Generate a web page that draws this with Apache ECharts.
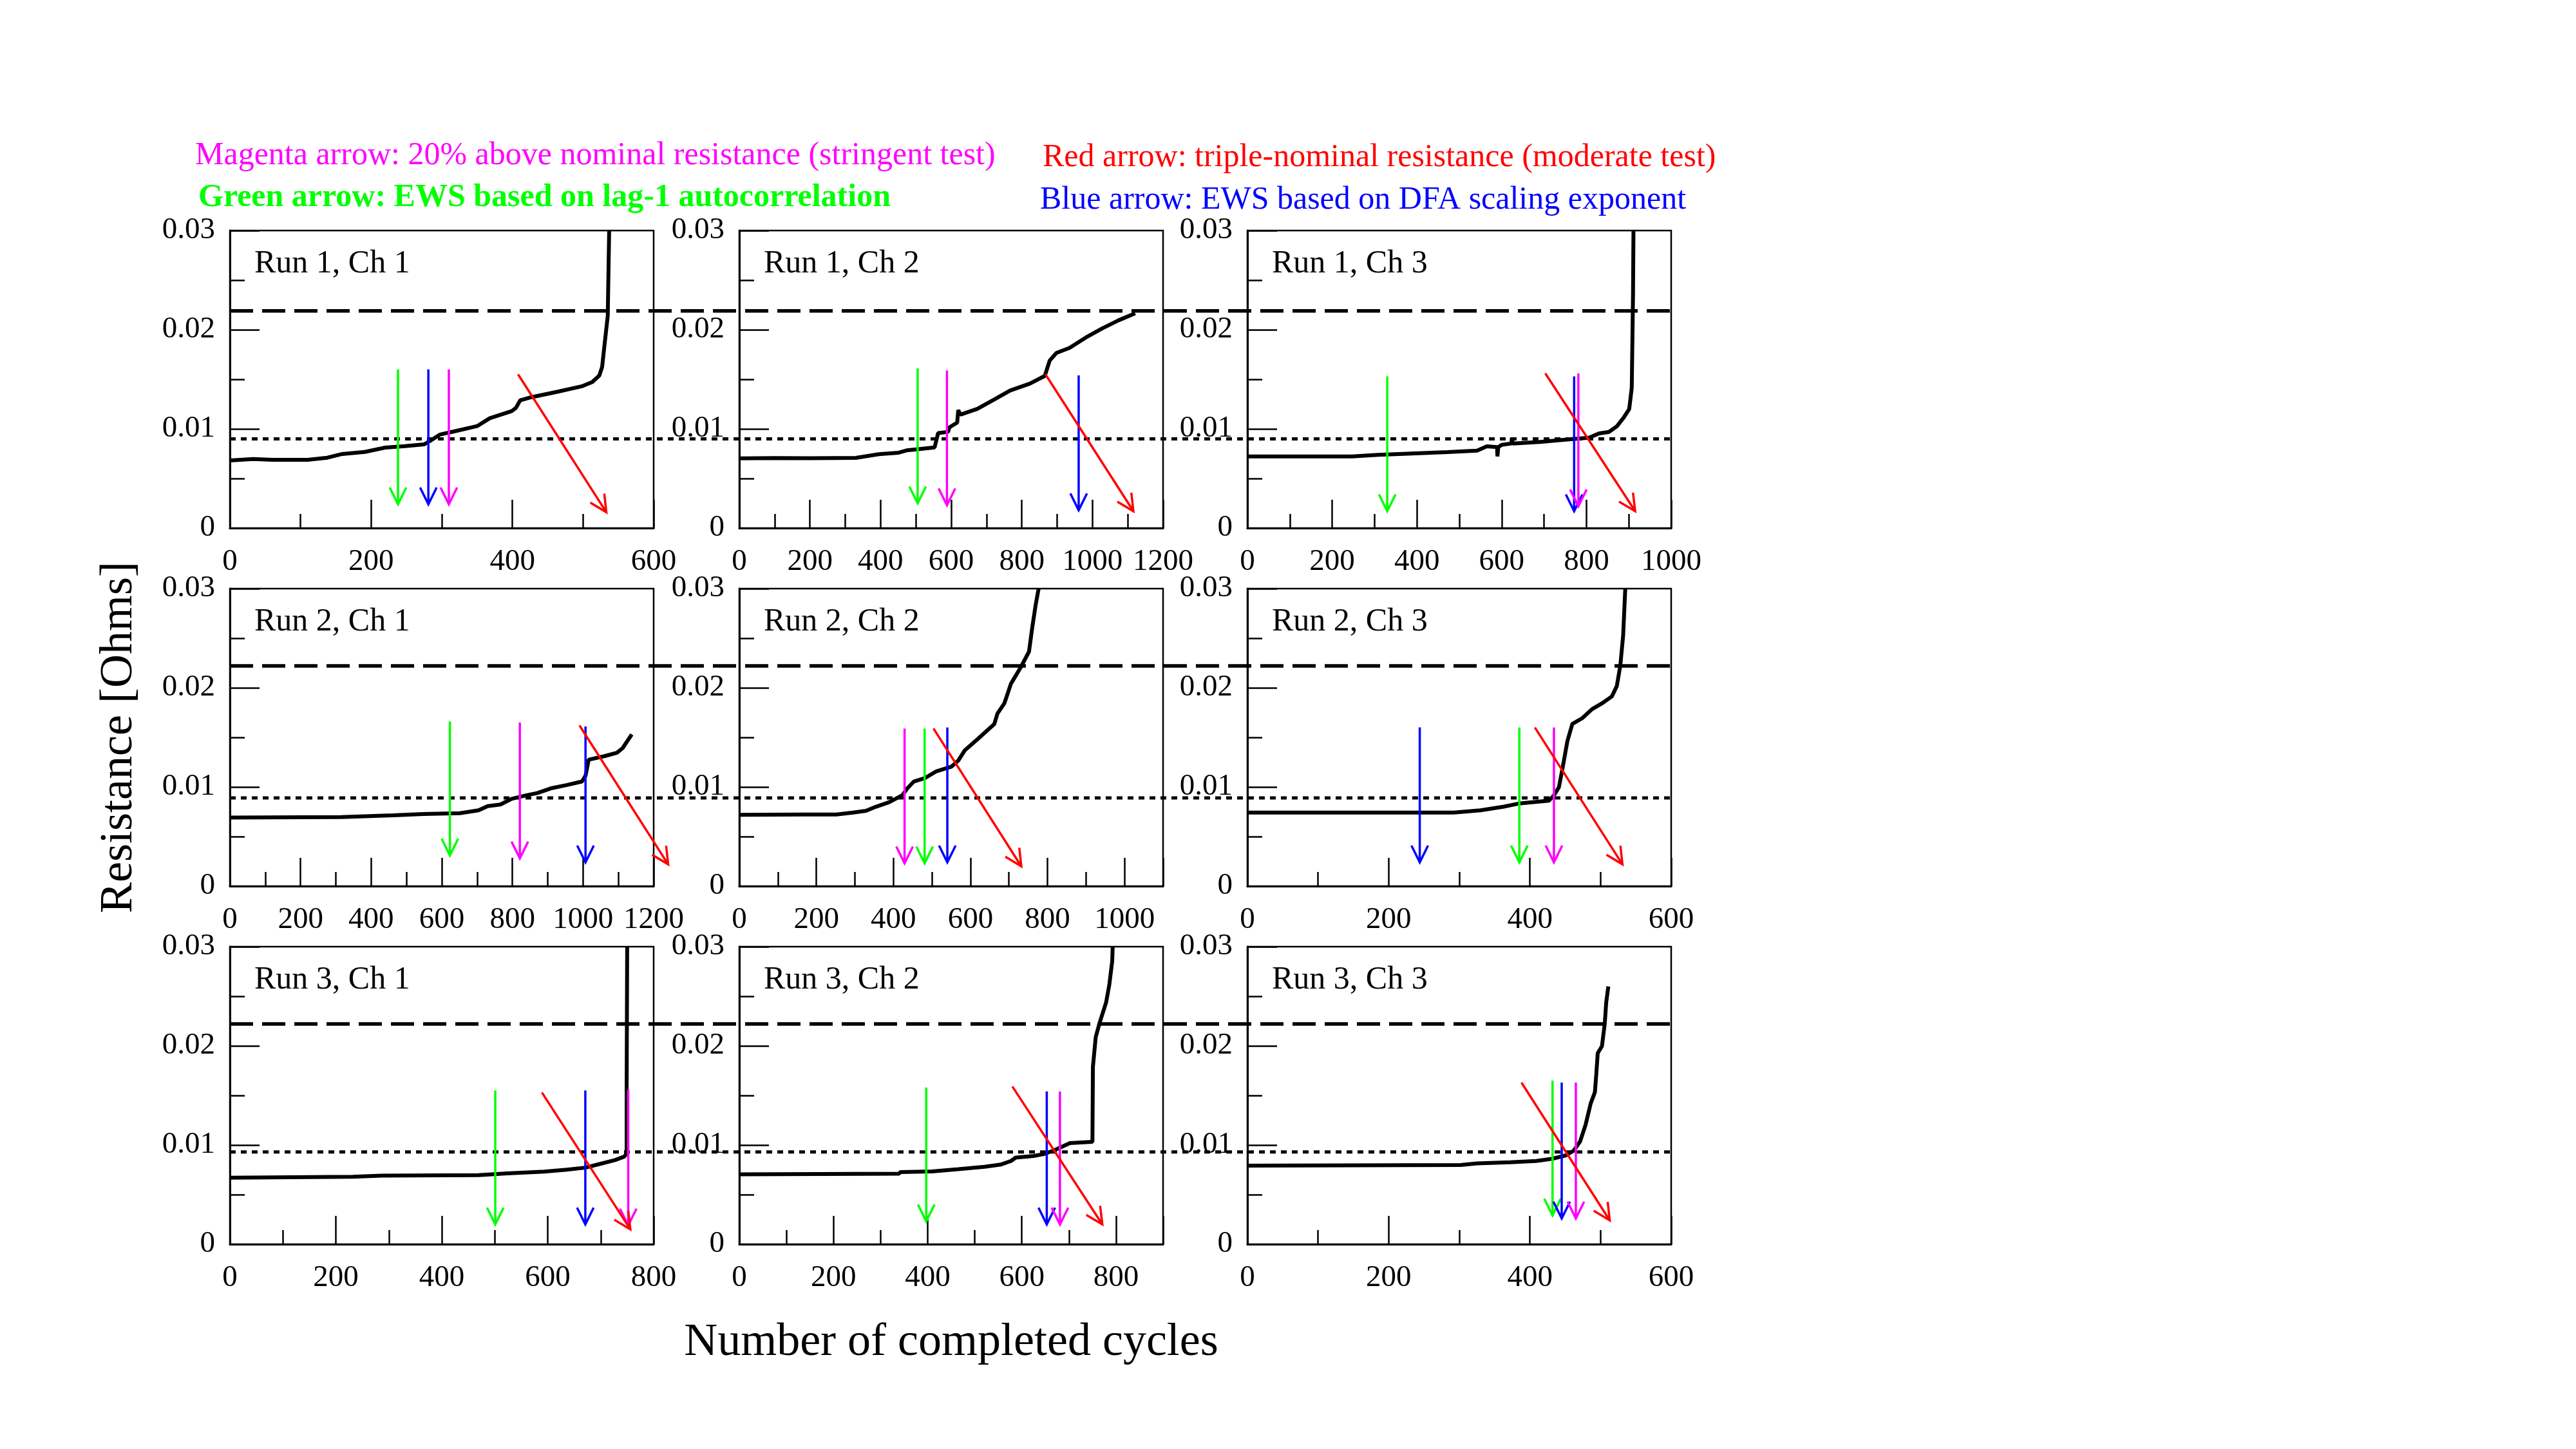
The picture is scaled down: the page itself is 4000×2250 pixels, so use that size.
<!DOCTYPE html>
<html>
<head>
<meta charset="utf-8">
<script src="https://cdn.jsdelivr.net/npm/echarts@6/dist/echarts.min.js"></script>
<style>
  html, body { margin: 0; padding: 0; background: #fff; }
  #chart { width: 4000px; height: 2250px; }
</style>
</head>
<body>
<div id="chart"></div>
<script>
// panel order: Run 1 Ch 1..3, Run 2 Ch 1..3, Run 3 Ch 1..3
const panelNames = ['Run 1, Ch 1', 'Run 1, Ch 2', 'Run 1, Ch 3',
                    'Run 2, Ch 1', 'Run 2, Ch 2', 'Run 2, Ch 3',
                    'Run 3, Ch 1', 'Run 3, Ch 2', 'Run 3, Ch 3'];
const xMax = [600, 1200, 1000, 1200, 1100, 600, 800, 900, 600];
const xTickLabels = [
  [0, 200, 400, 600], [0, 200, 400, 600, 800, 1000, 1200], [0, 200, 400, 600, 800, 1000],
  [0, 200, 400, 600, 800, 1000, 1200], [0, 200, 400, 600, 800, 1000], [0, 200, 400, 600],
  [0, 200, 400, 600, 800], [0, 200, 400, 600, 800], [0, 200, 400, 600]
];
const yTickLabels = ['0', '0.01', '0.02', '0.03'];

// threshold lines per row (Ohms)
const tripleNominal = [0.0219, 0.0222, 0.0222];
const stringentLevel = [0.0090, 0.0089, 0.0093];

// resistance curves: [cycles, Ohms]
const r1c1 = [[0,0.00682],[33,0.00697],[60,0.00688],[110,0.00688],[138,0.0071],[159,0.00747],[191,0.00768],[220,0.00812],[248,0.00827],[275,0.00844],[283,0.00877],[297,0.00942],[317,0.00974],[350,0.01028],[368,0.01108],[399,0.0118],[405,0.01212],[411,0.01288],[427,0.0132],[464,0.01375],[498,0.01429],[513,0.01472],[523,0.01537],[527,0.01623],[530,0.0182],[535,0.0214],[537,0.0300]];
const r1c2 = [[0,0.00703],[100,0.00706],[200,0.00704],[330,0.00708],[395,0.00745],[451,0.0076],[474,0.00784],[507,0.00796],[553,0.00814],[563,0.00958],[591,0.0097],[595,0.01016],[617,0.01063],[620,0.0119],[626,0.01144],[674,0.01202],[721,0.01295],[767,0.01387],[823,0.01457],[865,0.01534],[879,0.01689],[898,0.01766],[935,0.01817],[981,0.01921],[1028,0.02014],[1074,0.02095],[1121,0.02165]];
const r1c3 = [[0,0.00723],[247,0.00723],[309,0.00738],[387,0.00752],[472,0.00767],[542,0.00781],[565,0.00824],[589,0.00816],[590,0.00723],[592,0.00816],[600,0.00839],[623,0.00853],[624,0.00911],[626,0.00853],[690,0.00868],[767,0.00897],[806,0.00911],[830,0.00955],[853,0.00969],[872,0.01027],[888,0.01114],[901,0.012],[907,0.01417],[910,0.02372],[911,0.0300]];
const r2c1 = [[0,0.00691],[316,0.00696],[369,0.00703],[463,0.00714],[547,0.00728],[651,0.00735],[704,0.00765],[730,0.00807],[766,0.00823],[798,0.00881],[840,0.00916],[871,0.00939],[908,0.00985],[955,0.0102],[997,0.01055],[1007,0.01113],[1016,0.01275],[1060,0.0131],[1096,0.01345],[1112,0.01391],[1138,0.0153]];
const r2c2 = [[0,0.00719],[167,0.00723],[252,0.00723],[295,0.00742],[329,0.0076],[354,0.008],[389,0.00846],[423,0.00916],[436,0.00985],[453,0.01055],[482,0.0109],[512,0.01159],[551,0.01206],[568,0.01264],[585,0.01368],[619,0.01484],[662,0.01635],[670,0.01739],[688,0.01843],[705,0.0204],[730,0.02203],[752,0.02365],[760,0.02597],[769,0.02829],[777,0.0300]];
const r2c3 = [[0,0.00742],[292,0.00742],[330,0.00765],[362,0.008],[386,0.00835],[427,0.00862],[434,0.00916],[441,0.00997],[446,0.01182],[453,0.01461],[460,0.01635],[474,0.01693],[488,0.01785],[502,0.01843],[516,0.01913],[523,0.02017],[528,0.02226],[532,0.02527],[535,0.0300]];
const r3c1 = [[0,0.00671],[232,0.0068],[287,0.00691],[469,0.00697],[524,0.00714],[594,0.00732],[636,0.00752],[671,0.00772],[699,0.0081],[727,0.00848],[744,0.00882],[749,0.00911],[749,0.01576],[750,0.0300]];
const r3c2 = [[0,0.00704],[339,0.00711],[342,0.00727],[409,0.00734],[465,0.00757],[521,0.00781],[556,0.00804],[577,0.00839],[587,0.00873],[625,0.0089],[646,0.00908],[667,0.00943],[688,0.00989],[702,0.01019],[750,0.01033],[751,0.01788],[757,0.02089],[765,0.02228],[779,0.02437],[786,0.02622],[792,0.02854],[793,0.0300]];
const r3c3 = [[0,0.00792],[302,0.00799],[325,0.00815],[372,0.00827],[409,0.00839],[432,0.00862],[451,0.00896],[462,0.00943],[471,0.01035],[479,0.01209],[486,0.01418],[492,0.01533],[494,0.01719],[496,0.01927],[502,0.01997],[506,0.02228],[508,0.02437],[511,0.02599]];
const curves = [r1c1, r1c2, r1c3, r2c1, r2c2, r2c3, r3c1, r3c2, r3c3];

// arrows per panel: [x start, y start, x end, y end]
const greenArrows = [[238,0.0160,238,0.0024],[505,0.0161,505,0.0025],[330,0.0153,330,0.0017],[623,0.0166,623,0.0031],[481,0.0159,481,0.0023],[385,0.0160,385,0.0024],[501,0.0155,501,0.0020],[397,0.0158,397,0.0023],[432,0.0165,432,0.0029]];
const blueArrows = [[281,0.0160,281,0.0024],[961,0.0154,961,0.0018],[771,0.0153,771,0.0017],[1007,0.0161,1007,0.0024],[540,0.0160,540,0.0024],[244,0.0160,244,0.0024],[671,0.0155,671,0.0020],[653,0.0154,653,0.0020],[445,0.0163,445,0.0026]];
const magentaArrows = [[310,0.0160,310,0.0024],[588,0.0159,588,0.0023],[781,0.0156,781,0.0022],[821,0.0165,821,0.0028],[429,0.0159,429,0.0023],[434,0.0160,434,0.0024],[752,0.0156,752,0.0019],[681,0.0154,681,0.0020],[465,0.0163,465,0.0026]];
const redArrows = [[408,0.0155,533,0.0016],[867,0.0155,1116,0.0017],[703,0.0156,915,0.0017],[990,0.0162,1241,0.0022],[504,0.0159,732,0.0020],[407,0.0160,531,0.0022],[589,0.0153,756,0.0015],[580,0.0159,771,0.0020],[388,0.0163,513,0.0024]];

const FONT = 'Liberation Serif';
const colLeft = [357, 1148, 1937];
const rowTop = [358, 914, 1470];
const PW = 658, PH = 462;

const grid = [], xAxis = [], yAxis = [], series = [], title = [];

function arrowSeries(panel, arrow, color) {
  return {
    type: 'custom',
    xAxisIndex: panel * 2 + 1,
    yAxisIndex: panel,
    clip: false,
    silent: true,
    z: 4,
    data: [arrow],
    encode: { x: [0, 2], y: [1, 3] },
    renderItem: (params, api) => {
      const p1 = api.coord([api.value(0), api.value(1)]);
      const p2 = api.coord([api.value(2), api.value(3)]);
      const ang = Math.atan2(p2[1] - p1[1], p2[0] - p1[0]);
      const L = 29, a = 0.46;
      const h1 = [p2[0] - L * Math.cos(ang - a), p2[1] - L * Math.sin(ang - a)];
      const h2 = [p2[0] - L * Math.cos(ang + a), p2[1] - L * Math.sin(ang + a)];
      const style = { stroke: color, lineWidth: 3.5, fill: null };
      return {
        type: 'group',
        children: [
          { type: 'polyline', shape: { points: [p1, p2] }, style },
          { type: 'polyline', shape: { points: [h1, p2, h2] }, style }
        ]
      };
    }
  };
}

for (let i = 0; i < 9; i++) {
  const r = Math.floor(i / 3), c = i % 3;
  grid.push({
    left: colLeft[c], top: rowTop[r], width: PW, height: PH,
    show: true, borderColor: '#000', borderWidth: 2.5, backgroundColor: 'transparent',
    containLabel: false
  });
  // minor x ticks
  xAxis.push({
    type: 'value', gridIndex: i, position: 'bottom', min: 0, max: xMax[i], interval: 100,
    axisLine: { show: false, onZero: false },
    axisTick: { show: true, inside: true, length: 22, lineStyle: { color: '#000', width: 2.5 } },
    axisLabel: { show: false },
    splitLine: { show: false }
  });
  // major x ticks and labels
  const labels = xTickLabels[i];
  const major = {
    type: 'value', gridIndex: i, position: 'bottom', min: 0, max: xMax[i], interval: 200,
    axisLine: { show: true, onZero: false, lineStyle: { color: '#000', width: 3 } },
    axisTick: { show: true, inside: true, length: 44, lineStyle: { color: '#000', width: 2.5 } },
    axisLabel: {
      color: '#000', fontFamily: FONT, fontSize: 47, margin: 29,
      formatter: (v) => labels.includes(v) ? String(v) : ''
    },
    splitLine: { show: false }
  };
  if (i === 7) {
    Object.assign(major, {
      name: 'Number of completed cycles', nameLocation: 'middle', nameGap: 117,
      nameTextStyle: { color: '#000', fontFamily: FONT, fontSize: 72 }
    });
  }
  xAxis.push(major);

  const yAx = {
    type: 'value', gridIndex: i, position: 'left', min: 0, max: 0.03, interval: 0.01,
    axisLine: { show: true, onZero: false, lineStyle: { color: '#000', width: 3 } },
    axisTick: { show: true, inside: true, length: 46, lineStyle: { color: '#000', width: 2.5 } },
    minorTick: { show: true, splitNumber: 2, length: 23, lineStyle: { color: '#000', width: 2.5 } },
    axisLabel: {
      color: '#000', fontFamily: FONT, fontSize: 47, margin: 23,
      formatter: (v) => yTickLabels[Math.round(v / 0.01)]
    },
    splitLine: { show: false }
  };
  if (i === 3) {
    Object.assign(yAx, {
      name: 'Resistance [Ohms]', nameLocation: 'middle', nameGap: 136, nameRotate: 90,
      nameTextStyle: { color: '#000', fontFamily: FONT, fontSize: 72 }
    });
  }
  yAxis.push(yAx);

  series.push({
    type: 'line', xAxisIndex: i * 2 + 1, yAxisIndex: i, data: curves[i],
    showSymbol: false, symbol: 'none', silent: true, z: 3, clip: true,
    lineStyle: { color: '#000', width: 6 }
  });
  series.push(arrowSeries(i, greenArrows[i], '#00ff00'));
  series.push(arrowSeries(i, blueArrows[i], '#0000ff'));
  series.push(arrowSeries(i, magentaArrows[i], '#ff00ff'));
  series.push(arrowSeries(i, redArrows[i], '#ff0000'));

  title.push({
    text: panelNames[i], left: colLeft[c] + 33, top: rowTop[r] + 22,
    textStyle: { color: '#000', fontFamily: FONT, fontSize: 50, fontWeight: 'normal' }
  });
}

// row-wide threshold lines running across all three panels
for (let r = 0; r < 3; r++) {
  const g = grid.length;
  grid.push({ left: colLeft[0], top: rowTop[r], width: colLeft[2] + PW - colLeft[0], height: PH, show: false, containLabel: false });
  xAxis.push({ type: 'value', gridIndex: g, min: 0, max: 1, show: false });
  yAxis.push({ type: 'value', gridIndex: g, min: 0, max: 0.03, show: false });
  series.push({
    type: 'line', xAxisIndex: xAxis.length - 1, yAxisIndex: yAxis.length - 1,
    data: [[0, tripleNominal[r]], [1, tripleNominal[r]]], symbol: 'none', silent: true, z: 2,
    lineStyle: { color: '#000', width: 5.5, type: [36, 14] }
  });
  series.push({
    type: 'line', xAxisIndex: xAxis.length - 1, yAxisIndex: yAxis.length - 1,
    data: [[0, stringentLevel[r]], [1, stringentLevel[r]]], symbol: 'none', silent: true, z: 2,
    lineStyle: { color: '#000', width: 5, type: [9, 8] }
  });
}

// key texts above the panels
title.push(
  { text: 'Magenta arrow: 20% above nominal resistance (stringent test)', left: 298, top: 212,
    textStyle: { color: '#ff00ff', fontFamily: FONT, fontSize: 50, fontWeight: 'normal' } },
  { text: 'Green arrow: EWS based on lag-1 autocorrelation', left: 303, top: 277,
    textStyle: { color: '#00ff00', fontFamily: FONT, fontSize: 50, fontWeight: 'bold' } },
  { text: 'Red arrow: triple-nominal resistance (moderate test)', left: 1614, top: 215,
    textStyle: { color: '#ff0000', fontFamily: FONT, fontSize: 50, fontWeight: 'normal' } },
  { text: 'Blue arrow: EWS based on DFA scaling exponent', left: 1610, top: 281,
    textStyle: { color: '#0000ff', fontFamily: FONT, fontSize: 50, fontWeight: 'normal' } }
);

const chart = echarts.init(document.getElementById('chart'), null, { renderer: 'canvas' });
chart.setOption({
  animation: false,
  backgroundColor: '#fff',
  title, grid, xAxis, yAxis, series
});
</script>
</body>
</html>
